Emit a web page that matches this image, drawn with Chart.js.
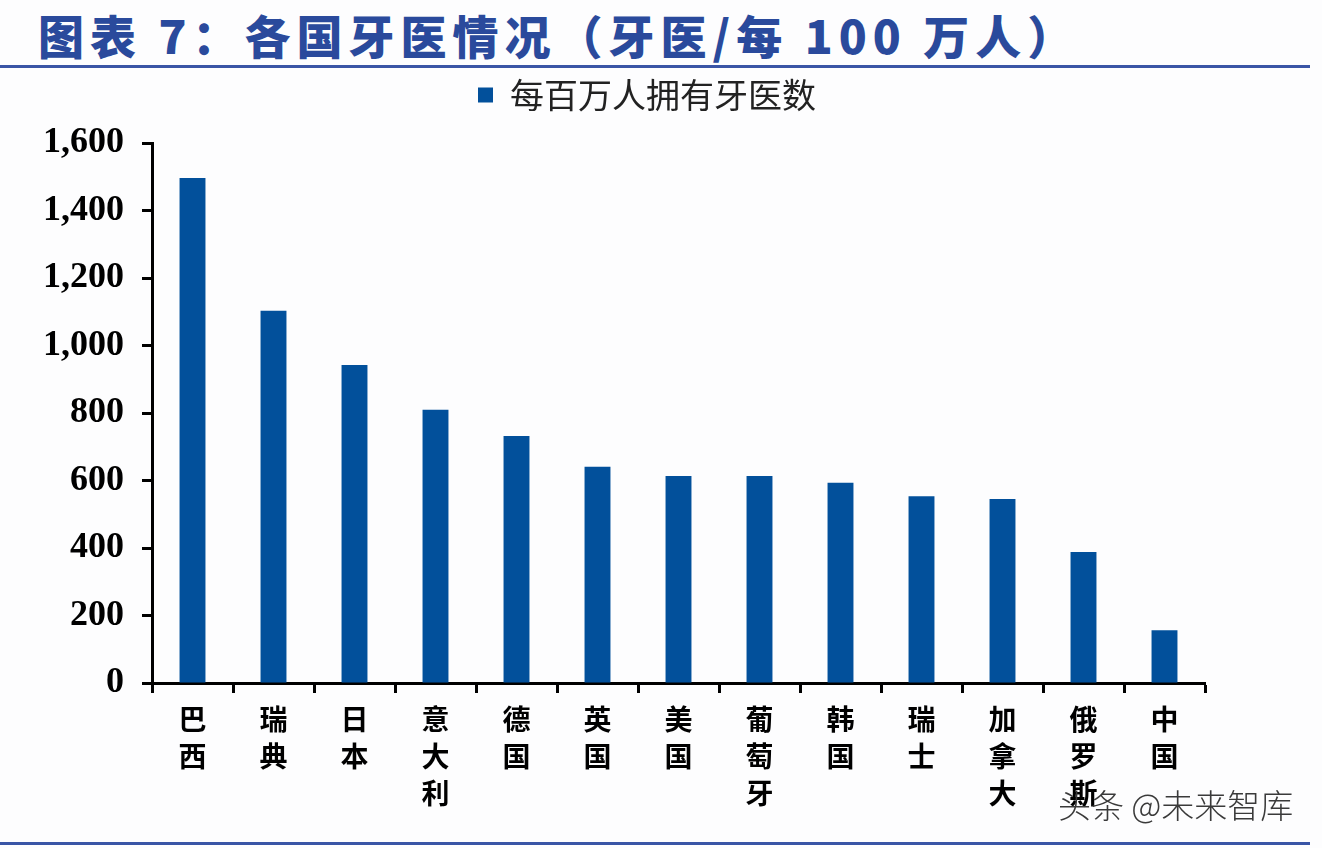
<!DOCTYPE html>
<html>
<head>
<meta charset="utf-8">
<script src="https://cdn.jsdelivr.net/npm/chart.js@4.4.1/dist/chart.umd.min.js"></script>
<style>
    html, body { margin: 0; padding: 0; background: #fdfdfe; }
    body { width: 1322px; height: 848px; position: relative; overflow: hidden; }
    .title {
        position: absolute; left: 38px; top: 1px;
        font-family: "Noto Sans CJK SC", sans-serif; font-weight: 900;
        font-size: 46px; color: #2a4a9c; letter-spacing: 6px; white-space: nowrap;
    }
    .rule { position: absolute; left: 0; width: 1310px; height: 3px; background: #3a55a6; }
    .mark {
        position: absolute; left: 1058px; top: 780px;
        font-family: "Noto Sans CJK SC", sans-serif; font-size: 33px;
        color: #3a3a3a; font-weight: 300; white-space: nowrap;
    }
    #wrap { position: absolute; left: 0; top: 0; width: 1322px; height: 848px; }
</style>
</head>
<body>
<div class="title">图表 7：各国牙医情况（牙医/每 100 万人）</div>
<div class="rule" style="top:65px"></div>
<div id="wrap"><canvas id="chart"></canvas></div>
<div class="rule" style="top:842px"></div>
<div class="mark">头条 @未来智库</div>

<script>
// Data
const countries = ['巴西', '瑞典', '日本', '意大利', '德国', '英国', '美国', '葡萄牙', '韩国', '瑞士', '加拿大', '俄罗斯', '中国'];
const dentists = [1496, 1103, 942, 810, 732, 641, 613, 613, 593, 553, 545, 388, 156];
const yTicks = [0, 200, 400, 600, 800, 1000, 1200, 1400, 1600];
const seriesName = '每百万人拥有牙医数';

const BLUE = '#02509b';

// vertical labels: one character per line
const labels = countries.map(c => c.split(''));

// extra room under the legend
const legendGap = {
    id: 'legendGap',
    beforeInit(chart) {
        const fit = chart.legend.fit;
        chart.legend.fit = function () {
            fit.call(this);
            this.height += 21;
        };
    }
};

new Chart(document.getElementById('chart').getContext('2d'), {
    type: 'bar',
    data: {
        labels: labels,
        datasets: [{
            label: seriesName,
            data: dentists,
            backgroundColor: BLUE,
            borderWidth: 0,
            barPercentage: 0.32,
            categoryPercentage: 1
        }]
    },
    options: {
        responsive: true,
        maintainAspectRatio: false,
        animation: false,
        layout: { padding: { left: 0, right: 28, top: 56, bottom: 0 } },
        plugins: {
            tooltip: { enabled: false },
            legend: {
                position: 'top',
                labels: {
                    boxWidth: 15, boxHeight: 15, padding: 22, color: '#222',
                    font: { family: '"Noto Sans CJK SC", sans-serif', size: 34 }
                }
            }
        },
        scales: {
            x: {
                offset: true,
                grid: { offset: true, drawOnChartArea: false, drawTicks: true, tickLength: 10, tickColor: '#000', tickWidth: 3 },
                border: { color: '#000', width: 3 },
                ticks: {
                    color: '#000', padding: 8, maxRotation: 0, autoSkip: false,
                    font: { family: '"Noto Sans CJK SC", sans-serif', size: 28, weight: 'bold', lineHeight: 1.32 }
                },
                afterFit: s => { s.height = 165; }
            },
            y: {
                min: 0, max: 1600,
                afterBuildTicks: s => { s.ticks = yTicks.map(v => ({ value: v })); },
                grid: { drawOnChartArea: false, drawTicks: true, tickLength: 10, tickColor: '#000', tickWidth: 3 },
                border: { color: '#000', width: 3 },
                ticks: {
                    color: '#000', padding: 18,
                    font: { family: '"Liberation Serif", serif', size: 36, weight: 'bold' },
                    callback: v => v.toLocaleString('en-US')
                },
                afterFit: s => { s.width = 152; }
            },
            // empty right-hand spacer so the plot ends where the original does
            spacer: {
                position: 'right',
                grid: { display: false },
                border: { display: false },
                ticks: { display: false },
                afterFit: s => { s.width = 89; }
            }
        }
    },
    plugins: [legendGap]
});
</script>
</body>
</html>
